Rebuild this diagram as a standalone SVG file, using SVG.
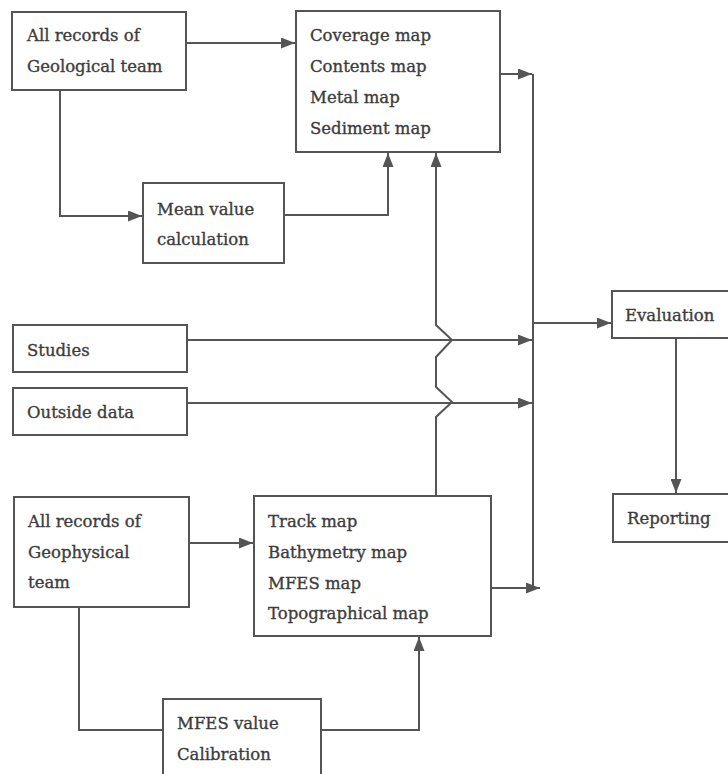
<svg xmlns="http://www.w3.org/2000/svg" width="728" height="774" viewBox="0 0 728 774">
<defs>
<marker id="ah" viewBox="0 0 14 11" refX="14" refY="5.5" markerWidth="14" markerHeight="11" markerUnits="userSpaceOnUse" orient="auto">
<path d="M0,0 L14,5.5 L0,11 Z" fill="#555"/>
</marker>
<style>
.box{fill:#fff;stroke:#555;stroke-width:2}
.t{font-family:"DejaVu Serif","Liberation Serif",serif;font-size:16.5px;fill:#3c3c3c;stroke:#3c3c3c;stroke-width:0.35}
.c{fill:none;stroke:#555;stroke-width:2}
.a{fill:none;stroke:#555;stroke-width:2;marker-end:url(#ah)}
</style>
</defs>
<rect width="728" height="774" fill="#fff"/>
<g id="connectors">
<path class="a" d="M186,43 H295"/>
<path class="a" d="M60,90 V216 H142"/>
<path class="a" d="M284,215 H388 V153"/>
<path class="a" d="M500,74 H532"/>
<path class="c" d="M533,74 V588"/>
<path class="a" d="M436,496 V417 L452,402 L436,387 V357 L452,340 L436,325 V153"/>
<path class="a" d="M187,340 H532"/>
<path class="a" d="M187,403 H532"/>
<path class="a" d="M533,323 H611"/>
<path class="a" d="M676,338 V493"/>
<path class="a" d="M189,543 H253"/>
<path class="a" d="M491,588 H540"/>
<path class="c" d="M79,607 V730 H163"/>
<path class="a" d="M321,730 H419 V637"/>
</g>
<g id="geological">
<rect class="box" x="12" y="12" width="174" height="78"/>
<text class="t" x="27" y="41">All records of</text>
<text class="t" x="27" y="72">Geological team</text>
</g>
<g id="geomaps">
<rect class="box" x="296" y="11" width="204" height="141"/>
<text class="t" x="310" y="41">Coverage map</text>
<text class="t" x="310" y="72">Contents map</text>
<text class="t" x="310" y="103">Metal map</text>
<text class="t" x="310" y="134">Sediment map</text>
</g>
<g id="mean">
<rect class="box" x="143" y="183" width="141" height="80"/>
<text class="t" x="157" y="215">Mean value</text>
<text class="t" x="157" y="245">calculation</text>
</g>
<g id="studies">
<rect class="box" x="13" y="325" width="174" height="47"/>
<text class="t" x="27" y="356">Studies</text>
</g>
<g id="outside">
<rect class="box" x="13" y="388" width="174" height="47"/>
<text class="t" x="27" y="418">Outside data</text>
</g>
<g id="evaluation">
<rect class="box" x="612" y="291" width="130" height="47"/>
<text class="t" x="625" y="321">Evaluation</text>
</g>
<g id="reporting">
<rect class="box" x="613" y="494" width="130" height="48"/>
<text class="t" x="627" y="524">Reporting</text>
</g>
<g id="geophysical">
<rect class="box" x="14" y="497" width="175" height="110"/>
<text class="t" x="28" y="527">All records of</text>
<text class="t" x="28" y="558">Geophysical</text>
<text class="t" x="28" y="588">team</text>
</g>
<g id="geophmaps">
<rect class="box" x="254" y="496" width="237" height="140"/>
<text class="t" x="268" y="527">Track map</text>
<text class="t" x="268" y="558">Bathymetry map</text>
<text class="t" x="268" y="589">MFES map</text>
<text class="t" x="268" y="619">Topographical map</text>
</g>
<g id="mfes">
<rect class="box" x="163" y="699" width="158" height="90"/>
<text class="t" x="177" y="729">MFES value</text>
<text class="t" x="177" y="760">Calibration</text>
</g>
</svg>
